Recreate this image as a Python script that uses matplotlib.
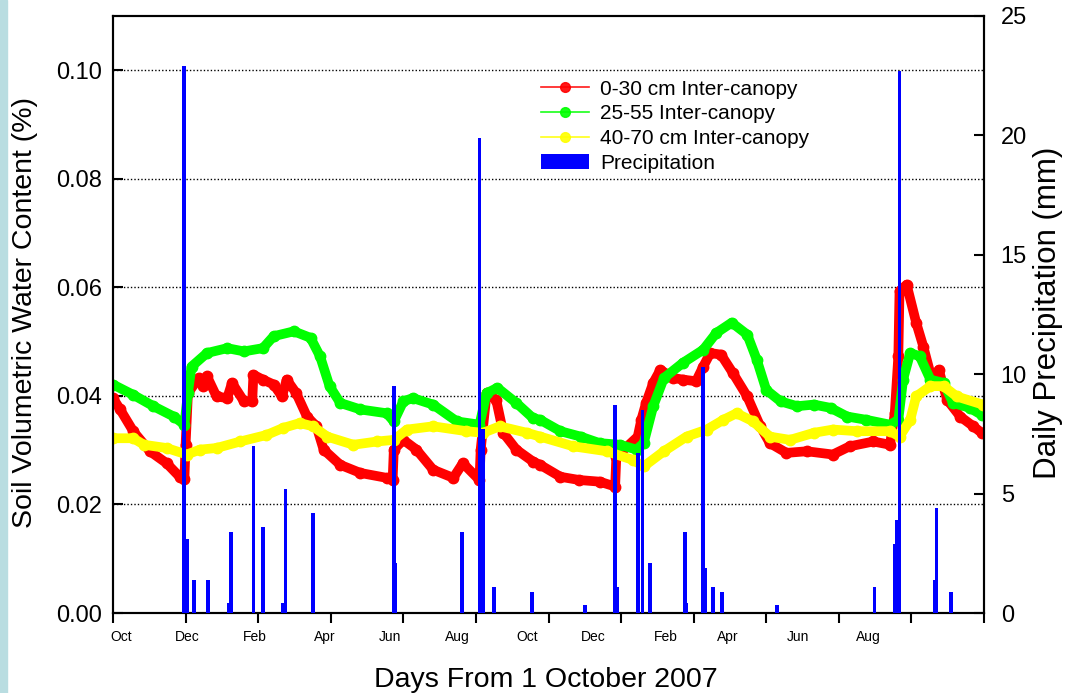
import matplotlib
matplotlib.use("Agg")
import matplotlib.pyplot as plt
from matplotlib.lines import Line2D
from matplotlib.patches import Patch, Rectangle

plt.rcParams['font.family'] = ['Liberation Sans', 'DejaVu Sans']

# days from 1 October 2007 / volumetric water content
red_days = [0, 6, 17, 31, 45, 56, 60, 61, 63, 72, 76, 79, 87, 96, 100, 110, 117, 118,
            126, 135, 142, 146, 154, 163, 171, 177, 191, 208, 230, 235, 236, 244, 255,
            269, 286, 294, 308, 309, 314, 322, 328, 339, 353, 359, 376, 392, 409, 422,
            423, 441, 444, 448, 454, 460, 471, 479, 490, 496, 502, 511, 521, 533, 544,
            552, 566, 583, 605, 619, 639, 653, 657, 660, 661, 667, 675, 681, 689, 694,
            701, 712, 723, 730]
red_vwc = [0.0396, 0.0375, 0.0335, 0.0298, 0.0276, 0.0251, 0.0247, 0.0310, 0.0405,
           0.0433, 0.0418, 0.0436, 0.0399, 0.0396, 0.0424, 0.0390, 0.0390, 0.0439,
           0.0430, 0.0421, 0.0399, 0.0430, 0.0405, 0.0362, 0.0344, 0.0301, 0.0273,
           0.0258, 0.0249, 0.0245, 0.0301, 0.0319, 0.0301, 0.0264, 0.0249, 0.0276,
           0.0245, 0.0301, 0.0405, 0.0393, 0.0332, 0.0301, 0.0279, 0.0273, 0.0251,
           0.0245, 0.0242, 0.0233, 0.0288, 0.0325, 0.0356, 0.0387, 0.0424, 0.0448,
           0.0433, 0.0430, 0.0427, 0.0454, 0.0479, 0.0476, 0.0442, 0.0399, 0.0344,
           0.0313, 0.0295, 0.0298, 0.0292, 0.0307, 0.0316, 0.0310, 0.0368, 0.0473,
           0.0593, 0.0605, 0.0535, 0.0491, 0.0424, 0.0448, 0.0393, 0.0362, 0.0344,
           0.0332]

green_days = [0, 17, 34, 51, 60, 63, 66, 79, 96, 110, 126, 135, 152, 166, 174, 182,
              191, 208, 230, 236, 244, 252, 269, 289, 308, 314, 323, 339, 353, 359,
              376, 393, 409, 426, 440, 446, 454, 463, 479, 496, 507, 520, 533, 541,
              549, 561, 575, 589, 603, 617, 633, 653, 660, 664, 670, 678, 687, 698,
              706, 720, 730]
green_vwc = [0.0421, 0.0402, 0.0381, 0.0362, 0.0347, 0.0406, 0.0454, 0.0479, 0.0488,
             0.0482, 0.0488, 0.0510, 0.0519, 0.0507, 0.0473, 0.0418, 0.0387, 0.0375,
             0.0368, 0.0353, 0.0390, 0.0396, 0.0384, 0.0353, 0.0347, 0.0405, 0.0415,
             0.0387, 0.0359, 0.0356, 0.0335, 0.0325, 0.0313, 0.0310, 0.0301, 0.0313,
             0.0381, 0.0433, 0.0461, 0.0485, 0.0516, 0.0535, 0.0513, 0.0467, 0.0411,
             0.0390, 0.0381, 0.0384, 0.0378, 0.0362, 0.0356, 0.0347, 0.0356, 0.0430,
             0.0479, 0.0473, 0.0430, 0.0424, 0.0387, 0.0378, 0.0365]

yellow_days = [0, 17, 26, 45, 62, 73, 87, 107, 129, 143, 157, 168, 180, 202, 222, 236,
               247, 269, 297, 311, 325, 348, 359, 387, 415, 437, 446, 463, 482, 499,
               513, 524, 538, 552, 569, 589, 605, 625, 653, 661, 670, 675, 687, 698,
               709, 731]
yellow_vwc = [0.0322, 0.0322, 0.0310, 0.0304, 0.0292, 0.0301, 0.0304, 0.0316, 0.0328,
              0.0341, 0.0350, 0.0344, 0.0325, 0.0310, 0.0316, 0.0319, 0.0338, 0.0344,
              0.0335, 0.0332, 0.0344, 0.0332, 0.0325, 0.0307, 0.0298, 0.0282, 0.0270,
              0.0298, 0.0325, 0.0338, 0.0356, 0.0368, 0.0353, 0.0325, 0.0319, 0.0332,
              0.0338, 0.0335, 0.0335, 0.0325, 0.0356, 0.0399, 0.0418, 0.0418, 0.0399,
              0.0384]

# daily precipitation (mm)
rain_days = [60, 62, 68, 80, 97, 99, 118, 126, 143, 145, 168, 236, 237, 293, 308, 311,
             320, 352, 397, 422, 424, 441, 445, 451, 481, 482, 496, 498, 504, 512, 558,
             640, 657, 659, 661, 691, 692, 704]
rain_mm = [22.9, 3.1, 1.4, 1.4, 0.4, 3.4, 7.0, 3.6, 0.4, 5.2, 4.2, 9.5, 2.1, 3.4, 19.9,
           7.7, 1.1, 0.9, 0.35, 8.7, 1.1, 6.7, 8.5, 2.1, 3.4, 0.4, 10.3, 1.9, 1.1, 0.9,
           0.35, 1.1, 2.9, 3.9, 22.7, 1.4, 4.4, 0.9]

month_ticks = list(range(0, 733, 61))
month_label_pos = [7, 62, 119, 178, 233, 289, 348, 404, 465, 517, 576, 635]
month_labels = ['Oct', 'Dec', 'Feb', 'Apr', 'Jun', 'Aug',
                'Oct', 'Dec', 'Feb', 'Apr', 'Jun', 'Aug']

fig = plt.figure(figsize=(10.66, 6.93), dpi=100)
fig.patches.append(Rectangle((0, 0), 7 / 1066, 1, transform=fig.transFigure,
                             color='#b9dde1', zorder=0))
ax = fig.add_axes([113 / 1066, 80 / 693, 871 / 1066, 597 / 693])

ax.plot(red_days, red_vwc, color='#ff0000', lw=7, marker='o', ms=7.5,
        solid_capstyle='round', solid_joinstyle='round')
ax.plot(green_days, green_vwc, color='#00ff00', lw=7, marker='o', ms=7.5,
        solid_capstyle='round', solid_joinstyle='round')
ax.plot(yellow_days, yellow_vwc, color='#ffff00', lw=7, marker='o', ms=7.5,
        solid_capstyle='round', solid_joinstyle='round')

ax.set_xlim(0, 732)
ax.set_ylim(0, 0.11)
ax.set_yticks([0.0, 0.02, 0.04, 0.06, 0.08, 0.10])
ax.set_yticklabels(['0.00', '0.02', '0.04', '0.06', '0.08', '0.10'])
ax.yaxis.grid(True, linestyle=(0, (1, 1.5)), color='black', lw=1)
ax.tick_params(axis='y', direction='in', length=7, width=1.5, labelsize=17, pad=8)

ax.set_xticks(month_ticks)
ax.set_xticklabels([])
ax.tick_params(axis='x', which='major', direction='out', length=7, width=1.5)
ax.set_xticks(month_label_pos, minor=True)
ax.set_xticklabels(month_labels, minor=True)
ax.tick_params(axis='x', which='minor', length=0, labelsize=10, pad=12)

ax2 = ax.twinx()
ax2.bar(rain_days, rain_mm, width=3.2, color='#0000ff', zorder=3)
ax2.set_ylim(0, 25)
ax2.set_yticks([0, 5, 10, 15, 20, 25])
ax2.tick_params(axis='y', direction='in', length=7, width=1.5, labelsize=17, pad=12)

for a in (ax, ax2):
    for s in a.spines.values():
        s.set_linewidth(1.5)

fig.text(25 / 1066, 1 - 312 / 693, 'Soil Volumetric Water Content (%)', rotation=90,
         ha='center', va='center', fontsize=20.5)
fig.text(1048 / 1066, 1 - 313 / 693, 'Daily Precipitation (mm)', rotation=90,
         ha='center', va='center', fontsize=22.5)
fig.text(546 / 1066, 1 - 680 / 693, 'Days From 1 October 2007',
         ha='center', va='center', fontsize=20.5)

handles = [
    Line2D([], [], color='#ff0000', lw=1.2, marker='o', ms=7, alpha=0.9),
    Line2D([], [], color='#00ff00', lw=1.2, marker='o', ms=7, alpha=0.9),
    Line2D([], [], color='#ffff00', lw=1.2, marker='o', ms=7, alpha=0.9),
    Patch(facecolor='#0000ff'),
]
labels = ['0-30 cm Inter-canopy', '25-55 Inter-canopy', '40-70 cm Inter-canopy',
          'Precipitation']
ax2.legend(handles, labels, loc='upper left', bbox_to_anchor=(0.47, 0.925),
           frameon=False, fontsize=15, handlelength=2.3, handletextpad=0.55,
           labelspacing=0.28, numpoints=1)

fig.savefig('out.png', dpi=100)
